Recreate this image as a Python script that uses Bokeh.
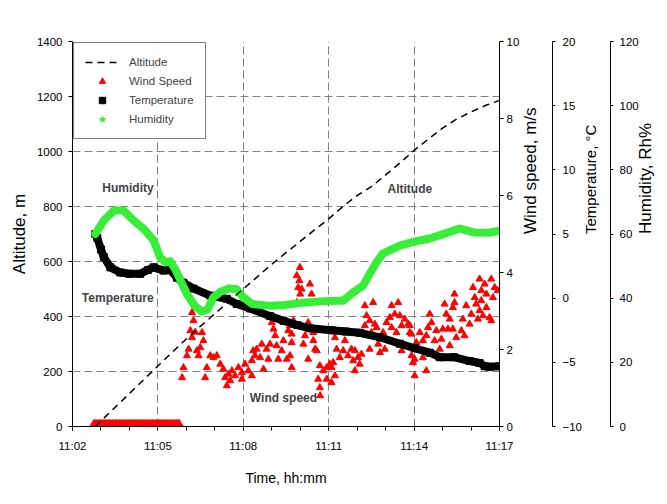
import math
from bokeh.plotting import figure
from bokeh.models import Range1d, LinearAxis, FixedTicker, Label, Legend, LegendItem
from bokeh.embed import file_html
from bokeh.resources import INLINE

# ---------------- data (time = minutes after 11:00) ----------------
time_ticks = [2, 5, 8, 11, 14, 17]
time_labels = ["11:02", "11:05", "11:08", "11:11", "11:14", "11:17"]
alt_ticks = [0, 200, 400, 600, 800, 1000, 1200, 1400]
wind_ticks = [0, 2, 4, 6, 8, 10]
temp_ticks = [-10, -5, 0, 5, 10, 15, 20]
hum_ticks = [0, 20, 40, 60, 80, 100, 120]

alt_t = [2.8, 3.5, 4.0, 4.5, 5.0, 5.5, 6.0, 6.5, 7.0, 7.5, 8.0, 8.5, 9.0, 9.5, 10.0,
         10.5, 11.0, 11.5, 12.0, 12.5, 13.0, 13.5, 14.0, 14.5, 15.0, 15.5, 16.0, 16.5, 17.0]
alt_m = [0, 70, 120, 170, 220, 270, 318, 365, 410, 456, 500, 545, 590, 632, 673,
         715, 755, 800, 840, 872, 915, 958, 1004, 1045, 1085, 1118, 1144, 1167, 1186]

hum_t = [2.80, 3.10, 3.45, 3.80, 4.15, 4.50, 4.85, 5.08, 5.26, 5.43, 5.61, 6.02, 6.30,
         6.55, 6.75, 6.95, 7.20, 7.50, 7.77, 8.00, 8.30, 8.94, 9.50, 10.10, 10.70, 11.29,
         11.51, 11.86, 12.21, 12.44, 12.68, 12.90, 13.50, 14.00, 14.55, 15.10, 15.60,
         16.10, 16.60, 17.00]
hum_pct = [60, 64.2, 67.3, 67.3, 64.2, 61.6, 58, 52.7, 51.2, 51.5, 49.0, 41.3, 37.5,
           35.8, 36.5, 40.3, 42.0, 43.0, 42.8, 40.3, 38.2, 37.6, 37.9, 38.6, 39.0, 39.2,
           39.2, 41.8, 43.9, 47.6, 51.2, 53.9, 56.4, 57.6, 58.6, 60.2, 61.7,
           60.5, 60.4, 61]

temp_t = [2.80, 2.87, 3.00, 3.10, 3.33, 3.68, 4.00, 4.38, 4.65, 4.85, 5.20, 5.43, 5.67,
          5.90, 6.25, 6.84, 7.42, 7.77, 8.24, 8.94, 9.41, 9.90, 10.34, 11.10, 11.60,
          12.09, 12.80, 13.50, 14.02, 14.55, 14.90, 15.40, 15.95, 16.30, 16.48, 16.65, 17.00]
temp_c = [5.0, 4.7, 3.8, 3.2, 2.4, 2.0, 1.9, 1.9, 2.2, 2.4, 2.15, 2.2, 1.6,
          1.2, 0.75, 0.2, -0.05, -0.45, -0.8, -1.4, -1.76, -2.1, -2.35, -2.5, -2.6,
          -2.7, -3.05, -3.55, -3.9, -4.25, -4.6, -4.6, -4.9, -5.05, -5.3, -5.35, -5.3]

# calm period at the start (all 0 m/s)
calm_t = [2.75, 2.80, 2.85, 2.90, 2.95, 3.00, 3.05, 3.10, 3.15, 3.20, 3.25, 3.30, 3.35,
          3.40, 3.45, 3.50, 3.55, 3.60, 3.65, 3.70, 3.75, 3.80, 3.85, 3.90, 3.95, 4.00,
          4.05, 4.10, 4.15, 4.20, 4.25, 4.30, 4.35, 4.40, 4.45, 4.50, 4.55, 4.60, 4.65,
          4.70, 4.75, 4.80, 4.85, 4.90, 4.95, 5.00, 5.05, 5.10, 5.15, 5.20, 5.25, 5.30,
          5.35, 5.40, 5.45, 5.50, 5.55, 5.60, 5.65, 5.70, 5.75]
calm_ms = [0, 0, 0, 0, 0, 0, 0, 0, 0, 0, 0, 0, 0,
           0, 0, 0, 0, 0, 0, 0, 0, 0, 0, 0, 0, 0,
           0, 0, 0, 0, 0, 0, 0, 0, 0, 0, 0, 0, 0,
           0, 0, 0, 0, 0, 0, 0, 0, 0, 0, 0, 0, 0,
           0, 0, 0, 0, 0, 0, 0, 0, 0]

wind_t = [5.85, 5.90, 6.02, 6.08, 6.14, 6.20, 6.20, 6.25, 6.31, 6.37, 6.43, 6.49, 6.55,
          6.60, 6.66, 6.72, 6.84, 6.95, 7.07, 7.19, 7.30, 7.36, 7.42, 7.48, 7.54, 7.60,
          7.71, 7.83, 7.95, 7.95, 8.06, 8.18, 8.30, 8.30, 8.35, 8.41, 8.47, 8.59, 8.65,
          8.71, 8.82, 8.88, 8.94, 9.00, 9.06, 9.12, 9.17, 9.23, 9.35, 9.41, 9.53, 9.58,
          9.64, 9.64, 9.70, 9.70, 9.70, 9.76, 9.88, 9.88, 9.93, 9.97, 9.99, 10.00, 10.05,
          10.11, 10.17, 10.28, 10.28, 10.34, 10.40, 10.46, 10.46, 10.52, 10.58, 10.63,
          10.69, 10.69, 10.70, 10.81, 10.93, 10.93, 11.04, 11.10, 11.10, 11.16, 11.22,
          11.22, 11.28, 11.39, 11.51, 11.57, 11.68, 11.80, 11.86, 11.92, 11.92, 12.03,
          12.09, 12.15, 12.27, 12.27, 12.33, 12.44, 12.44, 12.50, 12.56, 12.62, 12.68,
          12.74, 12.80, 12.91, 12.97, 13.03, 13.15, 13.21, 13.21, 13.32, 13.38, 13.44,
          13.50, 13.56, 13.56, 13.67, 13.79, 13.85, 13.85, 13.91, 13.91, 13.96, 14.02,
          14.02, 14.02, 14.08, 14.20, 14.31, 14.31, 14.43, 14.43, 14.49, 14.55, 14.61,
          14.72, 14.78, 14.90, 14.96, 15.01, 15.07, 15.13, 15.19, 15.25, 15.25, 15.36,
          15.36, 15.42, 15.42, 15.48, 15.66, 15.71, 15.77, 15.83, 15.95, 16.01, 16.07,
          16.13, 16.18, 16.24, 16.30, 16.30, 16.36, 16.36, 16.42, 16.48, 16.54, 16.54,
          16.65, 16.71, 16.71, 16.77, 16.83, 16.94]
wind_ms = [1.27, 1.53, 1.84, 2.01, 2.49, 2.96, 2.31, 2.75, 2.45, 1.97, 1.84, 2.05, 2.44,
           2.23, 1.27, 1.53, 1.84, 1.79, 1.84, 1.62, 1.49, 1.27, 1.06, 1.36, 1.19, 1.45,
           1.32, 1.53, 1.40, 1.23, 1.62, 1.45, 1.71, 1.32, 1.97, 1.84, 2.01, 1.79, 2.14,
           1.49, 2.01, 1.75, 2.14, 2.70, 2.53, 2.36, 2.10, 1.75, 1.97, 2.23, 1.75, 2.49,
           1.84, 2.62, 2.40, 2.18, 1.53, 2.75, 3.92, 3.22, 3.61, 3.79, 4.13, 3.44, 3.57,
           2.14, 2.36, 1.75, 2.70, 3.70, 3.44, 2.23, 2.44, 2.01, 1.97, 1.23,
           1.58, 1.01, 0.80, 1.45, 1.53, 1.23, 1.62, 1.14, 1.53, 1.66, 1.32,
           2.31, 2.01, 1.79, 1.97, 2.23, 1.84, 2.01, 1.71, 1.97, 1.45, 1.79,
           1.62, 1.88, 3.14, 2.62, 2.88, 2.75, 2.01, 2.44, 3.22, 2.66, 2.57,
           2.14, 1.92, 2.44, 2.01, 2.70, 2.83, 3.14, 2.57, 2.92, 2.44, 3.22,
           2.88, 2.62, 1.97, 2.79, 2.66, 2.44, 2.62, 1.84, 2.40, 1.66, 1.32,
           2.01, 1.75, 2.18, 2.44, 2.23, 1.79, 1.45, 2.36, 2.57, 2.92, 2.70,
           2.23, 2.49, 2.01, 2.27, 2.53, 3.18, 2.92, 2.53, 2.79, 2.10, 2.53,
           3.09, 3.44, 3.22, 2.31, 2.49, 2.79, 2.36, 3.14, 2.66, 2.92, 3.61,
           3.35, 3.18, 2.79, 3.83, 3.01, 3.53, 3.27, 2.88, 3.70, 3.44, 3.09,
           2.83, 3.83, 2.75, 3.35, 3.61, 3.53]

# ---------------- style ----------------
FONT = "Liberation Sans"
GREEN = "#36EE36"
GRID = "#808080"

p = figure(width=667, height=504, output_backend="svg", toolbar_location=None,
           x_range=Range1d(2, 17), y_range=Range1d(0, 1400),
           min_border_left=72, min_border_right=167, min_border_top=41, min_border_bottom=78)
p.outline_line_color = None
p.background_fill_color = "white"
p.border_fill_color = "white"
p.extra_y_ranges = {"wind": Range1d(0, 10), "temp": Range1d(-10, 20), "hum": Range1d(0, 120)}

# grids
p.xgrid.ticker = FixedTicker(ticks=time_ticks[1:-1])
p.ygrid.ticker = FixedTicker(ticks=alt_ticks[1:])
for g in (p.xgrid, p.ygrid):
    g.grid_line_color = GRID
    g.grid_line_dash = "8 4"
    g.grid_line_width = 1


def style_axis(ax, tick_out=4, standoff=5):
    ax.axis_line_color = "black"
    ax.axis_line_width = 1
    ax.major_tick_line_color = "black"
    ax.major_tick_in = 0
    ax.major_tick_out = tick_out
    ax.major_label_text_font = FONT
    ax.major_label_text_font_size = "11.5px"
    ax.major_label_text_color = "black"
    ax.major_label_standoff = standoff
    ax.axis_label_text_font = FONT
    ax.axis_label_text_font_style = "normal"
    ax.axis_label_text_color = "black"


def upward_title(ax):
    if "axis_label_orientation" in ax.properties():
        ax.axis_label_orientation = math.pi / 2


# bottom axis
xa = p.xaxis[0]
xa.ticker = FixedTicker(ticks=time_ticks, minor_ticks=list(range(2, 18)))
xa.major_label_overrides = {t: lab for t, lab in zip(time_ticks, time_labels)}
style_axis(xa, 4, 9)
xa.minor_tick_in = 0
xa.minor_tick_out = 4
xa.minor_tick_line_color = "black"
xa.axis_label = "Time, hh:mm"
xa.axis_label_text_font_size = "14px"
xa.axis_label_standoff = 15

# left axis
ya = p.yaxis[0]
ya.ticker = FixedTicker(ticks=alt_ticks)
style_axis(ya, 4, 6)
ya.minor_tick_line_color = None
ya.axis_label = "Altitude, m"
ya.axis_label_text_font_size = "17px"
ya.axis_label_standoff = 5

# right axes
ax_w = LinearAxis(y_range_name="wind", ticker=FixedTicker(ticks=wind_ticks),
                  axis_label="Wind speed, m/s")
style_axis(ax_w, 4, 3)
ax_w.minor_tick_line_color = None
ax_w.axis_label_text_font_size = "17px"
ax_w.axis_label_text_line_height = 1.0
ax_w.axis_label_standoff = 8
upward_title(ax_w)
p.add_layout(ax_w, "right")

ax_t = LinearAxis(y_range_name="temp", ticker=FixedTicker(ticks=temp_ticks),
                  axis_label="Temperature, °C")
style_axis(ax_t, 3, 7)
ax_t.minor_tick_line_color = None
ax_t.axis_label_text_font_size = "15px"
ax_t.axis_label_text_line_height = 1.0
ax_t.axis_label_standoff = 5
upward_title(ax_t)
p.add_layout(ax_t, "right")

ax_h = LinearAxis(y_range_name="hum", ticker=FixedTicker(ticks=hum_ticks),
                  axis_label="Humidity, Rh%")
style_axis(ax_h, 3, 6)
ax_h.minor_tick_line_color = None
ax_h.axis_label_text_font_size = "17px"
ax_h.axis_label_text_line_height = 1.0
ax_h.axis_label_standoff = 4
upward_title(ax_h)
p.add_layout(ax_h, "right")

# data renderers
p.scatter(calm_t, calm_ms, marker="triangle", size=12, color="red", y_range_name="wind")
p.scatter(wind_t, wind_ms, marker="triangle", size=7, color="red", y_range_name="wind")
p.line(temp_t, temp_c, line_width=8, color="black", line_join="round", line_cap="round",
       y_range_name="temp")
p.scatter(temp_t, temp_c, marker="square", size=7, color="black", y_range_name="temp")
p.line(hum_t, hum_pct, line_width=8, color=GREEN, line_join="round", line_cap="round",
       y_range_name="hum")
alt_r = p.line(alt_t, alt_m, line_dash="7 5", line_width=1.5, color="black")

# legend-only glyphs (placed outside the visible ranges)
l_wind = p.scatter([-100], [-100], marker="triangle", size=6, color="red")
l_temp = p.scatter([-100], [-100], marker="square", size=7, color="black")
l_hum = p.scatter([-100], [-100], marker="star", size=9, color=GREEN)

legend = Legend(items=[LegendItem(label="Altitude", renderers=[alt_r]),
                       LegendItem(label="Wind Speed", renderers=[l_wind]),
                       LegendItem(label="Temperature", renderers=[l_temp]),
                       LegendItem(label="Humidity", renderers=[l_hum])],
                location="top_left", margin=1, padding=11, spacing=3,
                glyph_width=34, glyph_height=16, label_height=16, label_standoff=10,
                border_line_color="black", border_line_width=1.5,
                background_fill_color="white", background_fill_alpha=1.0,
                label_text_font=FONT, label_text_font_size="11.5px")
p.add_layout(legend)

# annotations inside the plot
for x, y, txt in [(3.95, 869, "Humidity"), (3.59, 469, "Temperature"),
                  (13.85, 865, "Altitude"), (9.41, 104, "Wind speed")]:
    p.add_layout(Label(x=x, y=y, text=txt, text_font=FONT, text_font_style="bold",
                       text_font_size="12px", text_align="center", text_baseline="middle"))

open("out.html", "w").write(file_html(p, INLINE))
